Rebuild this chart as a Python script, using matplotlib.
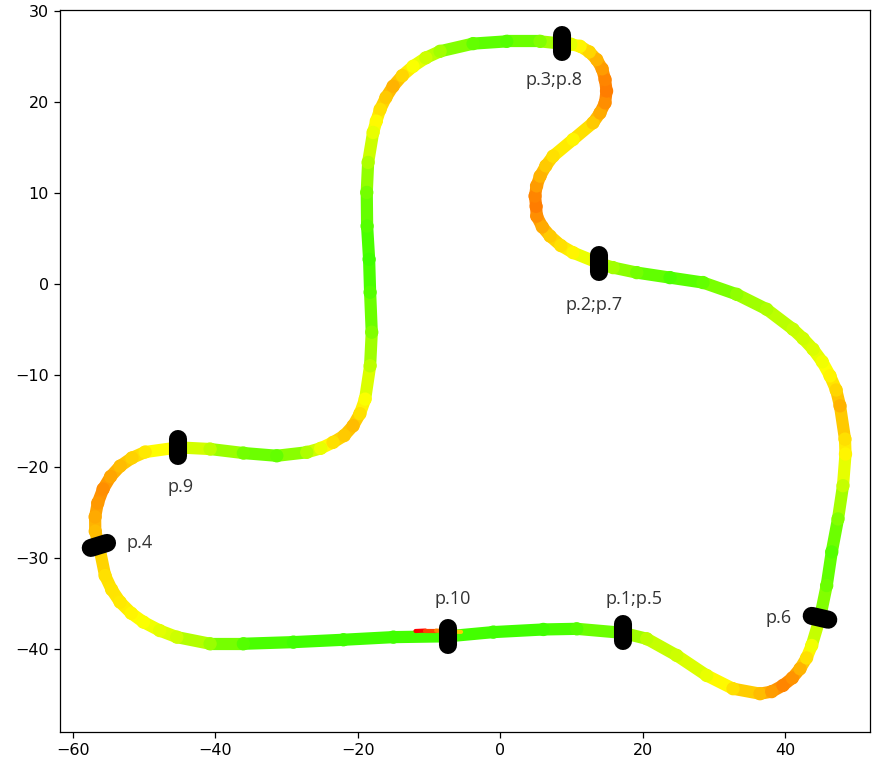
import matplotlib.pyplot as plt
import numpy as np
from matplotlib.collections import LineCollection
from matplotlib.colors import LinearSegmentedColormap

# trazado de la vuelta, empieza en p.1
track_x = [17.19, 20.56, 24.77, 28.98, 32.67, 36.46, 38.10, 39.69, 41.00, 42.08,
           43.00, 43.72, 44.88, 45.82, 46.53, 47.41, 48.11, 48.46, 48.39, 47.69,
           47.15, 46.29, 45.20, 43.90, 42.50, 41.09, 37.40, 33.19, 28.46, 23.83,
           19.16, 15.83, 13.91, 10.22, 8.50, 6.99, 5.90, 5.12, 5.03, 4.88,
           5.10, 5.59, 6.40, 7.41, 10.22, 13.02, 14.00, 14.71, 14.92, 14.71,
           14.30, 13.54, 12.50, 11.20, 9.90, 8.63, 5.59, 0.91, -3.82, -8.45,
           -10.45, -12.24, -13.75, -15.05, -16.05, -16.87, -17.40, -17.85, -18.55, -18.74,
           -18.69, -18.41, -18.27, -18.04, -18.27, -18.97, -19.70, -20.66, -21.90, -23.47,
           -25.20, -27.16, -31.37, -36.06, -40.73, -45.18, -49.85, -51.70, -53.36, -54.70,
           -55.75, -56.50, -56.87, -56.85, -56.34, -55.47, -54.55, -53.36, -51.80, -50.09,
           -47.80, -45.40, -40.73, -36.06, -29.04, -22.02, -15.00, -7.33, -0.97, 6.05,
           10.74]
track_y = [-38.25, -38.90, -40.73, -42.93, -44.38, -44.93, -44.70, -44.02, -43.20, -42.19,
           -41.00, -39.64, -36.60, -33.06, -29.37, -25.75, -22.10, -18.63, -16.99, -13.34,
           -11.60, -10.05, -8.50, -7.12, -5.95, -4.93, -2.74, -1.10, 0.19, 0.73,
           1.28, 1.83, 2.30, 3.47, 4.25, 5.29, 6.30, 7.48, 8.55, 9.68,
           10.80, 11.87, 13.00, 14.06, 15.89, 17.72, 18.80, 19.91, 21.21, 22.47,
           23.65, 24.66, 25.50, 26.12, 26.35, 26.41, 26.66, 26.66, 26.41, 25.57,
           24.85, 23.92, 22.90, 21.73, 20.50, 19.18, 17.90, 16.66, 13.37, 10.08,
           6.39, 2.74, -0.88, -5.26, -8.95, -12.60, -14.20, -15.53, -16.60, -17.35,
           -18.00, -18.44, -18.82, -18.52, -18.08, -17.90, -18.41, -19.05, -19.95, -21.10,
           -22.47, -24.00, -25.53, -27.10, -28.66, -31.97, -33.50, -34.88, -36.10, -37.07,
           -38.00, -38.72, -39.45, -39.45, -39.27, -39.01, -38.72, -38.63, -38.17, -37.88,
           -37.81]
track_speed = [0.85, 0.72, 0.68, 0.62, 0.50, 0.42, 0.35, 0.30, 0.33, 0.40,
               0.50, 0.60, 0.80, 0.90, 0.95, 0.85, 0.70, 0.55, 0.50, 0.40,
               0.48, 0.55, 0.60, 0.65, 0.68, 0.70, 0.75, 0.82, 0.92, 0.97,
               0.88, 0.78, 0.68, 0.55, 0.50, 0.45, 0.38, 0.32, 0.28, 0.30,
               0.35, 0.40, 0.45, 0.50, 0.55, 0.45, 0.38, 0.32, 0.28, 0.30,
               0.35, 0.40, 0.48, 0.55, 0.63, 0.72, 0.85, 0.95, 0.92, 0.78,
               0.68, 0.58, 0.48, 0.40, 0.45, 0.50, 0.56, 0.62, 0.75, 0.88,
               0.95, 1.00, 0.95, 0.85, 0.72, 0.58, 0.50, 0.42, 0.45, 0.50,
               0.62, 0.75, 0.92, 0.88, 0.72, 0.62, 0.52, 0.47, 0.42, 0.37,
               0.32, 0.34, 0.38, 0.42, 0.45, 0.50, 0.51, 0.52, 0.55, 0.58,
               0.63, 0.68, 0.80, 0.95, 1.00, 1.00, 1.00, 0.98, 1.00, 1.00,
               0.95]

# arranque (lento)
start_x = [-11.9, -10.5, -9.0, -7.5, -5.5]
start_y = [-38.05, -38.0, -38.0, -38.1, -38.15]
start_speed = [0.0, 0.15, 0.3, 0.45, 0.6]

# puntos marcados
mark_names = ['p.1;p.5', 'p.2;p.7', 'p.3;p.8', 'p.4', 'p.6', 'p.9', 'p.10']
mark_x = [17.19, 13.91, 8.63, -56.34, 44.88, -45.18, -7.33]
mark_y = [-38.25, 2.30, 26.41, -28.66, -36.60, -17.90, -38.70]
# inclinacion de cada marca (grados, 90 = vertical) y desplazamiento de etiquetas (puntos)
mark_angle = [90, 90, 90, 17, -13, 90, 90]
label_off = [(8, 24), (-3.5, -30), (-5.5, -26.5), (29.5, 2), (-29.5, 0), (1.5, -28.5), (3, 27)]

cmap = LinearSegmentedColormap.from_list(
    'vel', [(0, '#ff0000'), (0.286, '#ff8000'), (0.571, '#ffff00'), (1, '#40ff00')])

fig = plt.figure(figsize=(8.73, 7.65), dpi=100)
ax = fig.add_axes([60 / 873, 1 - 731.7 / 765, 810 / 873, 721.7 / 765])
ax.set_xlim(-61.8, 51.9)
ax.set_ylim(-49.1, 30.1)

# pista coloreada por velocidad
x = np.append(track_x, track_x[0])
y = np.append(track_y, track_y[0])
v = np.append(track_speed, track_speed[0])
pts = np.column_stack([x, y]).reshape(-1, 1, 2)
segs = np.concatenate([pts[:-1], pts[1:]], axis=1)
lc = LineCollection(segs, cmap=cmap, norm=plt.Normalize(0, 1), linewidths=8.8,
                    capstyle='round', joinstyle='round')
lc.set_array((v[:-1] + v[1:]) / 2)
ax.add_collection(lc)
ax.scatter(track_x, track_y, c=track_speed, cmap=cmap, vmin=0, vmax=1, s=92,
           linewidths=0, zorder=2)

# arranque
sp = np.column_stack([start_x, start_y]).reshape(-1, 1, 2)
ss = np.concatenate([sp[:-1], sp[1:]], axis=1)
lc2 = LineCollection(ss, cmap=cmap, norm=plt.Normalize(0, 1), linewidths=3,
                     capstyle='round', zorder=3)
lc2.set_array(np.array(start_speed[:-1]))
ax.add_collection(lc2)

# marcas
for name, mx, my, ang, off in zip(mark_names, mark_x, mark_y, mark_angle, label_off):
    d = np.array([np.cos(np.radians(ang)), np.sin(np.radians(ang))]) * 8.5
    c = ax.transData.transform((mx, my))
    ends = ax.transData.inverted().transform([c - d, c + d])
    ax.plot(ends[:, 0], ends[:, 1], color='black', lw=13, solid_capstyle='round', zorder=5)
    ax.annotate(name, (mx, my), xytext=off, textcoords='offset points',
                ha='center', va='center', fontsize=13, family='Open Sans',
                color='#333333', zorder=6)

ax.tick_params(labelsize=11.5, length=4, width=0.9, pad=4)
for s in ax.spines.values():
    s.set_linewidth(0.9)

fig.savefig('out.png', dpi=100)
